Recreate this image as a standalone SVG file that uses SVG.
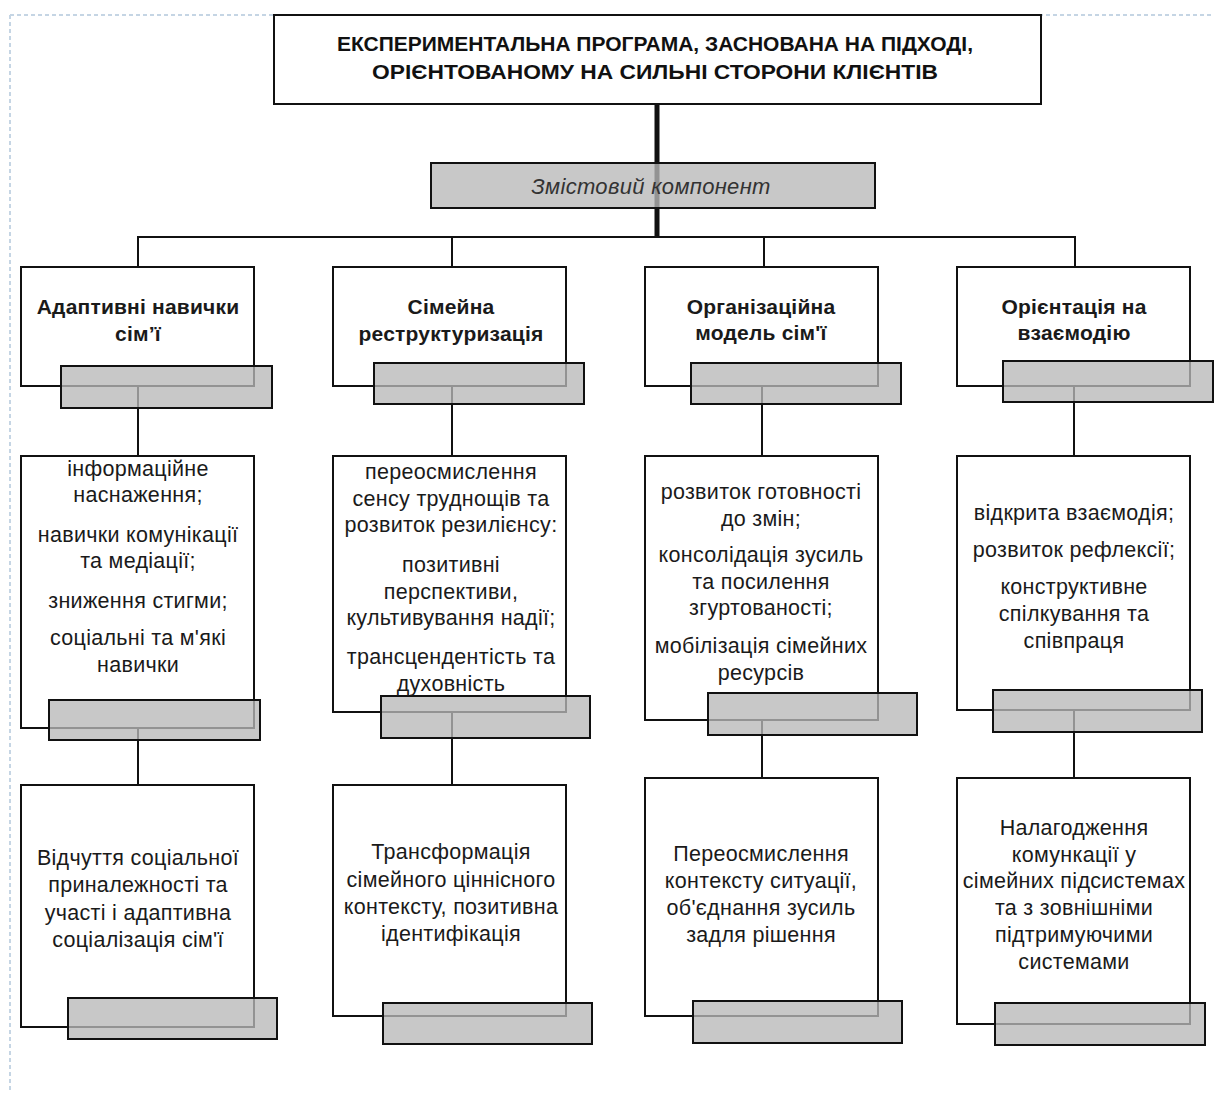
<svg xmlns="http://www.w3.org/2000/svg" width="1214" height="1093" viewBox="0 0 1214 1093">
<style>
.box{fill:#fff;stroke:#111;stroke-width:2}
.tab{fill:#b9b9b9;fill-opacity:0.78;stroke:#111;stroke-width:2}
.t{font-family:"Liberation Sans",Arial,sans-serif;font-size:21.5px;letter-spacing:0.3px;fill:#1a1a1a;text-anchor:middle}
.h{font-weight:bold;font-size:21px;letter-spacing:0.2px}
.title{font-family:"Liberation Sans",Arial,sans-serif;font-size:20px;font-weight:bold;fill:#111;text-anchor:middle}
.con{stroke:#111;stroke-width:2;fill:none}
</style>
<rect width="1214" height="1093" fill="#fff"/>
<path d="M10 15 H1214 M10 15 V1093" stroke="#c5d5e4" stroke-width="2" stroke-dasharray="4 3" fill="none"/>
<g id="connectors">
<line class="con" x1="657" y1="104" x2="657" y2="237" style="stroke-width:5"/>
<line class="con" x1="137" y1="237" x2="1076" y2="237"/>
<line class="con" x1="138" y1="236" x2="138" y2="267"/>
<line class="con" x1="452" y1="236" x2="452" y2="267"/>
<line class="con" x1="764" y1="236" x2="764" y2="267"/>
<line class="con" x1="1075" y1="236" x2="1075" y2="267"/>
<line class="con" x1="138" y1="386" x2="138" y2="456"/>
<line class="con" x1="452" y1="386" x2="452" y2="456"/>
<line class="con" x1="762" y1="386" x2="762" y2="456"/>
<line class="con" x1="1074" y1="386" x2="1074" y2="456"/>
<line class="con" x1="138" y1="728" x2="138" y2="785"/>
<line class="con" x1="452" y1="712" x2="452" y2="785"/>
<line class="con" x1="762" y1="720" x2="762" y2="778"/>
<line class="con" x1="1074" y1="710" x2="1074" y2="778"/>
</g>
<g id="title">
<rect class="box" x="274" y="15" width="767" height="89"/>
<text class="title" x="655" y="51" textLength="636" lengthAdjust="spacingAndGlyphs">ЕКСПЕРИМЕНТАЛЬНА ПРОГРАМА, ЗАСНОВАНА НА ПІДХОДІ,</text>
<text class="title" x="655" y="79" textLength="566" lengthAdjust="spacingAndGlyphs">ОРІЄНТОВАНОМУ НА СИЛЬНІ СТОРОНИ КЛІЄНТІВ</text>
</g>
<g id="component">
<rect class="tab" x="431" y="163" width="444" height="45"/>
<text class="t" x="651" y="194" style="font-style:italic;fill:#333;font-size:22px">Змістовий компонент</text>
</g>
<g id="col1-head">
<rect class="box" x="21" y="267" width="233" height="119"/>
<rect class="tab" x="61" y="366" width="211" height="42"/>
<text class="t h" x="138" y="314">Адаптивні навички</text>
<text class="t h" x="138" y="341">сім’ї</text>
</g>
<g id="col1-mid">
<rect class="box" x="21" y="456" width="233" height="272"/>
<rect class="tab" x="49" y="700" width="211" height="40"/>
<text class="t" x="138" y="476">інформаційне</text>
<text class="t" x="138" y="502">наснаження;</text>
<text class="t" x="138" y="542">навички комунікації</text>
<text class="t" x="138" y="568">та медіації;</text>
<text class="t" x="138" y="608">зниження стигми;</text>
<text class="t" x="138" y="645">соціальні та м'які</text>
<text class="t" x="138" y="672">навички</text>
</g>
<g id="col1-bot">
<rect class="box" x="21" y="785" width="233" height="242"/>
<rect class="tab" x="68" y="998" width="209" height="41"/>
<text class="t" x="138" y="865">Відчуття соціальної</text>
<text class="t" x="138" y="892">приналежності та</text>
<text class="t" x="138" y="920">участі і адаптивна</text>
<text class="t" x="138" y="947">соціалізація сім'ї</text>
</g>
<g id="col2-head">
<rect class="box" x="333" y="267" width="233" height="119"/>
<rect class="tab" x="374" y="363" width="210" height="41"/>
<text class="t h" x="451" y="314">Сімейна</text>
<text class="t h" x="451" y="341">реструктуризація</text>
</g>
<g id="col2-mid">
<rect class="box" x="333" y="456" width="233" height="256"/>
<rect class="tab" x="381" y="696" width="209" height="42"/>
<text class="t" x="451" y="479">переосмислення</text>
<text class="t" x="451" y="506">сенсу труднощів та</text>
<text class="t" x="451" y="532">розвиток резилієнсу:</text>
<text class="t" x="451" y="572">позитивні</text>
<text class="t" x="451" y="599">перспективи,</text>
<text class="t" x="451" y="625">культивування надії;</text>
<text class="t" x="451" y="664">трансцендентість та</text>
<text class="t" x="451" y="691">духовність</text>
</g>
<g id="col2-bot">
<rect class="box" x="333" y="785" width="233" height="231"/>
<rect class="tab" x="383" y="1003" width="209" height="41"/>
<text class="t" x="451" y="859">Трансформація</text>
<text class="t" x="451" y="887">сімейного ціннісного</text>
<text class="t" x="451" y="914">контексту, позитивна</text>
<text class="t" x="451" y="941">ідентифікація</text>
</g>
<g id="col3-head">
<rect class="box" x="645" y="267" width="233" height="119"/>
<rect class="tab" x="691" y="363" width="210" height="41"/>
<text class="t h" x="761" y="314">Організаційна</text>
<text class="t h" x="761" y="340">модель сім'ї</text>
</g>
<g id="col3-mid">
<rect class="box" x="645" y="456" width="233" height="264"/>
<rect class="tab" x="708" y="693" width="209" height="42"/>
<text class="t" x="761" y="499">розвиток готовності</text>
<text class="t" x="761" y="526">до змін;</text>
<text class="t" x="761" y="562">консолідація зусиль</text>
<text class="t" x="761" y="589">та посилення</text>
<text class="t" x="761" y="615">згуртованості;</text>
<text class="t" x="761" y="653">мобілізація сімейних</text>
<text class="t" x="761" y="680">ресурсів</text>
</g>
<g id="col3-bot">
<rect class="box" x="645" y="778" width="233" height="238"/>
<rect class="tab" x="693" y="1001" width="209" height="42"/>
<text class="t" x="761" y="861">Переосмислення</text>
<text class="t" x="761" y="888">контексту ситуації,</text>
<text class="t" x="761" y="915">об'єднання зусиль</text>
<text class="t" x="761" y="942">задля рішення</text>
</g>
<g id="col4-head">
<rect class="box" x="957" y="267" width="233" height="119"/>
<rect class="tab" x="1003" y="361" width="210" height="41"/>
<text class="t h" x="1074" y="314">Орієнтація на</text>
<text class="t h" x="1074" y="340">взаємодію</text>
</g>
<g id="col4-mid">
<rect class="box" x="957" y="456" width="233" height="254"/>
<rect class="tab" x="993" y="690" width="209" height="42"/>
<text class="t" x="1074" y="520">відкрита взаємодія;</text>
<text class="t" x="1074" y="557">розвиток рефлексії;</text>
<text class="t" x="1074" y="594">конструктивне</text>
<text class="t" x="1074" y="621">спілкування та</text>
<text class="t" x="1074" y="648">співпраця</text>
</g>
<g id="col4-bot">
<rect class="box" x="957" y="778" width="233" height="246"/>
<rect class="tab" x="995" y="1003" width="210" height="42"/>
<text class="t" x="1074" y="835">Налагодження</text>
<text class="t" x="1074" y="862">комункації у</text>
<text class="t" x="1074" y="888">сімейних підсистемах</text>
<text class="t" x="1074" y="915">та з зовнішніми</text>
<text class="t" x="1074" y="942">підтримуючими</text>
<text class="t" x="1074" y="969">системами</text>
</g>
</svg>
